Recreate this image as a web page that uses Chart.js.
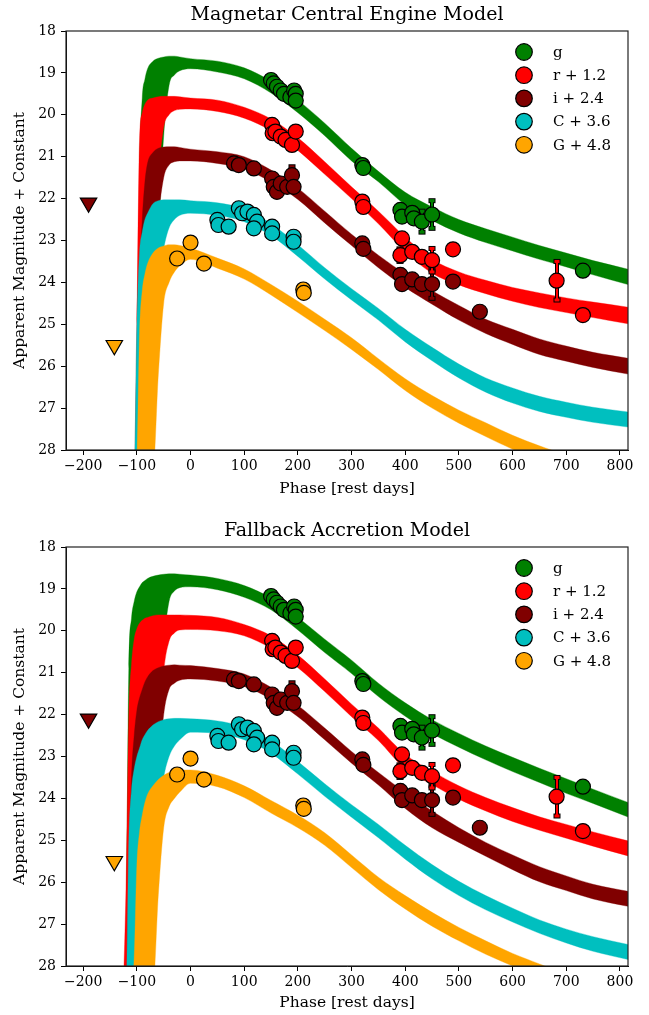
<!DOCTYPE html>
<html>
<head>
<meta charset="utf-8">
<script src="https://cdn.jsdelivr.net/npm/chart.js@4.4.0/dist/chart.umd.min.js"></script>
<style>
  html, body { margin:0; padding:0; background:#fff; }
  canvas { display:block; }
</style>
</head>
<body>
<canvas id="cTop" width="649" height="507"></canvas>
<canvas id="cBot" width="649" height="508"></canvas>
<script>
// Two model fits to the same light curve: magnetar engine (top), fallback accretion (bottom).
// Each model band = bright edge (hi) and faint edge (lo) of the bundle of model draws.

const phaseDays = [-125,-120,-115,-110,-105,-100,-95,-90,-85,-80,-70,-60,-50,-40,-30,-20,0,50,100,150,200,250,300,350,400,450,500,550,600,650,700,750,820];

// magnetar model
const mag_g_hi = [28.5,28.5,28.5,28.5,28.5,28.3,21.5,19.6,19.15,18.9,18.72,18.65,18.62,18.6,18.6,18.62,18.66,18.72,18.88,19.2,19.65,20.2,20.8,21.35,21.85,22.2,22.5,22.72,22.92,23.12,23.3,23.48,23.7];
const mag_g_lo = [28.5,28.5,28.5,28.5,28.5,28.5,28.5,28.5,28.5,28.5,26,23,20.5,19.3,19.05,18.95,18.9,18.98,19.14,19.48,19.95,20.5,21.1,21.6,22.15,22.52,22.82,23.05,23.25,23.45,23.63,23.82,24.07];
const mag_r_hi = [28.5,28.5,28.5,28.5,28.5,25,20.6,19.95,19.75,19.65,19.6,19.57,19.56,19.56,19.56,19.57,19.6,19.65,19.82,20.1,20.55,21.12,21.72,22.3,22.92,23.45,23.75,23.95,24.12,24.25,24.37,24.47,24.6];
const mag_r_lo = [28.5,28.5,28.5,28.5,28.5,28.5,28.5,28.5,28.5,27,24,21.5,20.3,20.0,19.9,19.87,19.86,19.92,20.08,20.38,20.85,21.42,22.0,22.6,23.27,23.78,24.06,24.27,24.45,24.6,24.72,24.84,25.0];
const mag_i_hi = [28.5,28.5,28.5,28.5,28.5,28,24,22.5,21.6,21.15,20.9,20.8,20.77,20.76,20.76,20.78,20.82,20.88,21.0,21.32,21.75,22.3,22.85,23.35,23.8,24.2,24.55,24.88,25.12,25.35,25.52,25.67,25.82];
const mag_i_lo = [28.5,28.5,28.5,28.5,28.5,28.5,28.5,28.5,28.5,27,24.5,22.5,21.5,21.2,21.12,21.1,21.1,21.16,21.3,21.6,22.02,22.58,23.12,23.65,24.12,24.52,24.9,25.22,25.48,25.72,25.88,26.03,26.2];
const mag_C_hi = [28.5,28.5,28.5,28.5,28.5,25,23.3,22.8,22.5,22.35,22.12,22.05,22.03,22.03,22.03,22.03,22.05,22.1,22.25,22.6,23.1,23.65,24.15,24.62,25.12,25.55,25.95,26.28,26.52,26.72,26.86,26.98,27.1];
const mag_C_lo = [28.5,28.5,28.5,28.5,28.5,28.5,28.5,28.5,28.5,28.5,26,24.2,23.2,22.7,22.5,22.4,22.35,22.4,22.55,22.88,23.38,23.92,24.42,24.9,25.42,25.87,26.28,26.62,26.88,27.08,27.22,27.34,27.46];
const mag_G_hi = [28.5,28.5,28.5,28.5,28.5,28.2,25.2,24.2,23.8,23.55,23.3,23.18,23.13,23.1,23.1,23.12,23.18,23.42,23.68,24.05,24.45,24.88,25.32,25.82,26.3,26.7,27.05,27.35,27.65,27.9,28.12,28.32,28.55];
const mag_G_lo = [28.5,28.5,28.5,28.5,28.5,28.5,28.5,28.5,28.5,28.5,28.5,26.2,24.5,24.0,23.75,23.6,23.45,23.66,23.92,24.3,24.72,25.15,25.6,26.08,26.58,27.0,27.36,27.68,27.98,28.22,28.45,28.65,28.9];

// fallback model
const fb_g_hi = [28.5,27,20.9,19.7,19.3,19.07,18.95,18.85,18.8,18.75,18.7,18.67,18.65,18.64,18.64,18.65,18.67,18.75,18.92,19.22,19.68,20.2,20.7,21.25,21.72,22.12,22.45,22.75,23.02,23.28,23.53,23.78,24.12];
const fb_g_lo = [28.5,28.5,28.5,28.5,28.5,28.5,28.5,28.5,28.5,28.5,26,22,20.3,19.3,19.05,18.97,18.95,19.02,19.2,19.5,19.98,20.52,21.02,21.57,22.04,22.45,22.78,23.08,23.36,23.62,23.88,24.12,24.47];
const fb_r_hi = [28.5,26,22,20.8,20.2,19.95,19.82,19.75,19.7,19.68,19.64,19.62,19.62,19.62,19.62,19.62,19.63,19.68,19.85,20.12,20.58,21.15,21.75,22.32,22.95,23.35,23.7,23.98,24.22,24.44,24.62,24.8,25.03];
const fb_r_lo = [28.5,28.5,28.5,28.5,28.5,28.5,28.5,28.5,28.5,28.5,26.5,23,21,20.25,20.05,19.98,19.97,20.0,20.12,20.42,20.88,21.45,22.05,22.62,23.3,23.67,24.02,24.3,24.55,24.76,24.95,25.14,25.39];
const fb_i_hi = [28.5,28.5,26,23.5,22.5,21.9,21.6,21.4,21.22,21.1,20.95,20.88,20.84,20.82,20.81,20.82,20.83,20.9,21.03,21.35,21.78,22.32,22.88,23.38,23.86,24.3,24.7,25.05,25.35,25.63,25.85,26.05,26.23];
const fb_i_lo = [28.5,28.5,28.5,28.5,28.5,28.5,28.5,28.5,28.5,28.5,26,23.5,22,21.4,21.25,21.18,21.15,21.2,21.33,21.63,22.05,22.6,23.16,23.68,24.24,24.7,25.05,25.38,25.7,25.99,26.2,26.4,26.59];
const fb_C_hi = [28.5,28.5,25,23.8,23.3,23.0,22.8,22.6,22.48,22.38,22.25,22.17,22.12,22.1,22.09,22.09,22.1,22.15,22.3,22.62,23.12,23.65,24.15,24.62,25.12,25.58,25.98,26.32,26.62,26.9,27.12,27.3,27.5];
const fb_C_lo = [28.5,28.5,28.5,28.5,28.5,28.5,28.5,28.5,28.5,28.5,26.5,24.5,23.5,23.0,22.75,22.6,22.42,22.45,22.6,22.92,23.42,23.95,24.45,24.94,25.45,25.92,26.32,26.66,26.95,27.22,27.45,27.65,27.86];
const fb_G_hi = [28.5,28.5,28.5,28.5,27.8,25.6,24.8,24.4,24.1,23.9,23.7,23.55,23.45,23.38,23.35,23.33,23.32,23.45,23.7,24.05,24.4,24.82,25.35,25.88,26.32,26.72,27.08,27.4,27.7,27.95,28.2,28.42,28.65];
const fb_G_lo = [28.5,28.5,28.5,28.5,28.5,28.5,28.5,28.5,28.5,28.5,28.5,26.3,24.7,24.2,24.0,23.85,23.64,23.72,23.98,24.35,24.7,25.12,25.65,26.18,26.64,27.05,27.4,27.72,28.0,28.28,28.52,28.75,29.0];

// observed photometry (same in both panels), offsets already applied
const gDays = [150,155,161,168,174,186,193,196,196,320,322,391,394,413,416,431,450,731];
const gMags = [19.17,19.25,19.33,19.42,19.5,19.58,19.42,19.5,19.66,21.2,21.27,22.27,22.43,22.34,22.47,22.55,22.38,23.72];
const gErr  = [0,0,0,0,0,0,0,0,0,0,0,0,0,0,0,0.25,0.33,0];
const rDays = [152,153,158,168,177,189,196,320,322,391,394,413,431,450,489,682,731];
const rMags = [20.24,20.44,20.4,20.52,20.6,20.72,20.4,22.07,22.2,23.35,22.95,23.27,23.39,23.47,23.21,23.96,24.78];
const rErr  = [0,0,0,0,0,0,0,0,0,0.15,0,0,0,0.28,0,0.46,0];
const iDays = [81,90,118,152,155,161,168,180,189,192,320,322,391,394,413,431,450,489,539];
const iMags = [21.16,21.2,21.28,21.52,21.72,21.84,21.64,21.72,21.44,21.72,23.07,23.2,23.82,24.04,23.93,24.04,24.04,23.98,24.7];
const iErr  = [0,0,0,0,0,0,0,0,0.2,0,0,0,0,0,0,0,0.34,0,0];
const CDays = [50,52,71,90,96,106,118,124,118,152,152,192,192];
const CMags = [22.51,22.63,22.67,22.23,22.35,22.31,22.39,22.55,22.71,22.67,22.83,22.91,23.03];
const CErr  = [0,0,0,0,0,0,0,0,0,0,0,0,0];
const GDays = [-25,0,25,210,211];
const GMags = [23.43,23.05,23.55,24.17,24.25];
const GErr  = [0,0,0,0,0];

// upper limits (i and G)
const limDays = [-190,-142];
const limMags = [22.1,25.5];
const limBand = [2,4];

const bandLabels = ['g','r + 1.2','i + 2.4','C + 3.6','G + 4.8'];
const bandColors = ['#008000','#ff0000','#800000','#00bfbf','#ffa500'];
const xTicks = [-200,-100,0,100,200,300,400,500,600,700,800];
const yTicks = [18,19,20,21,22,23,24,25,26,27,28];

const SERIF = '"DejaVu Serif", serif';

function hexA(hex, a){
  const n = parseInt(hex.slice(1),16);
  return `rgba(${n>>16},${(n>>8)&255},${n&255},${a})`;
}

function bandSets(hi, lo, color, order){
  const line = arr => phaseDays.map((d,k)=>({x:d, y:arr[k]}));
  const base = {pointRadius:0, borderWidth:1, borderColor:hexA(color,.35),
    cubicInterpolationMode:'monotone', order};
  return [
    {...base, data:line(hi), fill:false},
    {...base, data:line(lo), fill:'-1', backgroundColor:color}
  ];
}

function obsSets(){
  const obs = [[gDays,gMags,gErr],[rDays,rMags,rErr],[iDays,iMags,iErr],[CDays,CMags,CErr],[GDays,GMags,GErr]];
  const sets = obs.map(([d,m,e],j)=>({
    data:d.map((x,k)=>({x, y:m[k]})), errs:e, showLine:false,
    pointRadius:7.5, pointBackgroundColor:bandColors[j], pointBorderColor:'#000',
    pointBorderWidth:1.2, order:0
  }));
  sets.push({
    data:limDays.map((x,k)=>({x, y:limMags[k]})), showLine:false,
    pointStyle:'triangle', rotation:180, pointRadius:9.5,
    pointBackgroundColor:limBand.map(b=>bandColors[b]), pointBorderColor:'#000',
    pointBorderWidth:1.2, order:0
  });
  return sets;
}

// frame, title, legend, error bars
const panelDeco = {
  id:'panelDeco',
  beforeDatasetDraw(chart, args){
    const ds = chart.data.datasets[args.index];
    if (!ds.errs) return;
    const ctx = chart.ctx, xs = chart.scales.x, ys = chart.scales.y;
    ctx.save();
    ds.data.forEach((p,k)=>{
      const e = ds.errs[k];
      if (!e) return;
      const px = Math.round(xs.getPixelForValue(p.x));
      const y1 = ys.getPixelForValue(p.y - e), y2 = ys.getPixelForValue(p.y + e);
      ctx.fillStyle = '#000';
      ctx.fillRect(px-2, y1-1, 4, y2-y1+2);
      ctx.fillRect(px-3.5, y1-2.5, 7, 5);
      ctx.fillRect(px-3.5, y2-2.5, 7, 5);
      ctx.fillStyle = ds.pointBackgroundColor;
      ctx.fillRect(px-1, y1, 2, y2-y1);
      ctx.fillRect(px-2.5, y1-1.5, 5, 3);
      ctx.fillRect(px-2.5, y2-1.5, 5, 3);
    });
    ctx.restore();
  },
  afterDatasetsDraw(chart){
    const {ctx, chartArea:a} = chart;
    ctx.save();
    ctx.strokeStyle = '#222';
    ctx.lineWidth = 1.2;
    ctx.strokeRect(a.left, a.top, a.right-a.left, a.bottom-a.top);
    ctx.restore();
  },
  afterDraw(chart, args, opts){
    const {ctx, chartArea:a} = chart;
    ctx.save();
    ctx.fillStyle = '#000';
    ctx.textAlign = 'center';
    ctx.textBaseline = 'middle';
    ctx.font = '19px ' + SERIF;
    ctx.fillText(opts.title, (a.left+a.right)/2, opts.titleY);
    // legend in the upper right
    ctx.textAlign = 'left';
    ctx.font = '15px ' + SERIF;
    bandLabels.forEach((lab,k)=>{
      const y = a.top + 21 + k*23.2;
      ctx.beginPath();
      ctx.arc(a.right-104, y, 8.3, 0, Math.PI*2);
      ctx.fillStyle = bandColors[k];
      ctx.fill();
      ctx.lineWidth = 1.2;
      ctx.strokeStyle = '#000';
      ctx.stroke();
      ctx.fillStyle = '#000';
      ctx.fillText(lab, a.right-75, y+1);
    });
    ctx.restore();
  }
};

function makePanel(canvasId, title, titleY, padTop, xHeight, xTitlePad, bands){
  const datasets = [...obsSets()];
  bands.forEach(([hi,lo],j)=>datasets.push(...bandSets(hi, lo, bandColors[j], 50-j*10)));
  new Chart(document.getElementById(canvasId), {
    type:'line',
    data:{datasets},
    options:{
      responsive:false, animation:false, events:[],
      layout:{padding:{top:padTop, right:21, left:0, bottom:0}},
      plugins:{legend:{display:false}, tooltip:{enabled:false}, panelDeco:{title, titleY}},
      scales:{
        x:{
          type:'linear', min:-232, max:815,
          afterBuildTicks:s=>{ s.ticks = xTicks.map(v=>({value:v})); },
          afterFit:s=>{ s.height = xHeight; },
          ticks:{font:{family:SERIF, size:14}, color:'#000', padding:3, maxRotation:0, autoSkip:false,
            callback:v=> v < 0 ? '\u2212' + Math.abs(v) : String(v)},
          grid:{drawOnChartArea:false, drawTicks:true, tickLength:5, color:'#000'},
          border:{display:true, color:'#000'},
          title:{display:true, text:'Phase [rest days]', font:{family:SERIF, size:15.5}, color:'#000',
            padding:{top:0, bottom:xTitlePad}}
        },
        y:{
          type:'linear', min:18, max:28, reverse:true,
          afterBuildTicks:s=>{ s.ticks = yTicks.map(v=>({value:v})); },
          afterFit:s=>{ s.width = 66; },
          ticks:{font:{family:SERIF, size:14}, color:'#000', padding:5, autoSkip:false},
          grid:{drawOnChartArea:false, drawTicks:true, tickLength:5, color:'#000'},
          border:{display:true, color:'#000'},
          title:{display:true, text:'Apparent Magnitude + Constant', font:{family:SERIF, size:15.5}, color:'#000',
            padding:{top:11, bottom:0}}
        }
      }
    },
    plugins:[panelDeco]
  });
}

makePanel('cTop', 'Magnetar Central Engine Model', 15, 31, 57, 8.7, [
  [mag_g_hi, mag_g_lo], [mag_r_hi, mag_r_lo], [mag_i_hi, mag_i_lo], [mag_C_hi, mag_C_lo], [mag_G_hi, mag_G_lo]
]);
makePanel('cBot', 'Fallback Accretion Model', 24, 40, 49, 2.7, [
  [fb_g_hi, fb_g_lo], [fb_r_hi, fb_r_lo], [fb_i_hi, fb_i_lo], [fb_C_hi, fb_C_lo], [fb_G_hi, fb_G_lo]
]);
</script>
</body>
</html>
